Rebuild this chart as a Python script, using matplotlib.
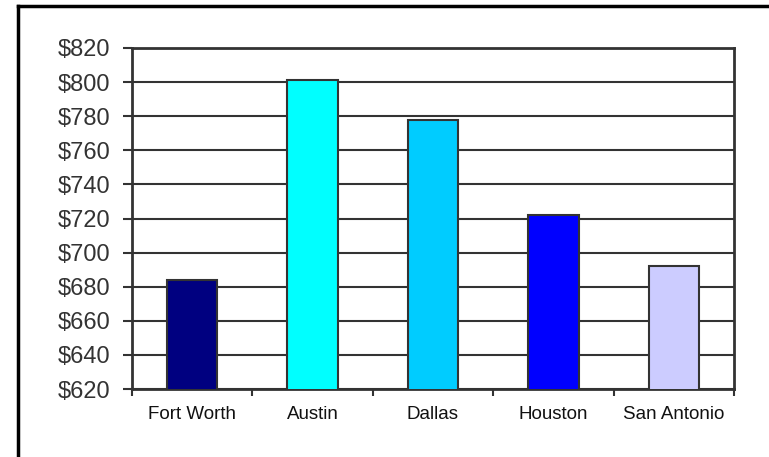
import matplotlib.pyplot as plt
from matplotlib.lines import Line2D
from matplotlib.ticker import FixedLocator, FuncFormatter

cities = ['Fort Worth', 'Austin', 'Dallas', 'Houston', 'San Antonio']
rent = [684, 801, 778, 722, 692]
colors = ['#000080', '#00FFFF', '#00CCFF', '#0000FF', '#CCCCFF']

plt.rcParams['font.family'] = ['Liberation Sans', 'DejaVu Sans']

fig = plt.figure(figsize=(7.69, 4.57), dpi=100)
ax = fig.add_axes([132/769, 1-389/457, (734-132)/769, (389-48)/457])

x = list(range(len(cities)))
ax.bar(x, rent, width=0.42, color=colors, edgecolor='#333333', linewidth=1.5, zorder=3)

ax.set_ylim(620, 820)
ax.set_xlim(-0.5, len(cities) - 0.5)
ax.set_yticks(range(620, 821, 20))
ax.yaxis.set_major_formatter(FuncFormatter(lambda v, p: '$%d' % v))
ax.grid(axis='y', color='#333333', linewidth=1.5, zorder=0)

# category boundaries get the tick marks, names sit at the centres
ax.xaxis.set_major_locator(FixedLocator([i - 0.5 for i in range(len(cities) + 1)]))
ax.xaxis.set_minor_locator(FixedLocator(x))
ax.set_xticklabels([], minor=False)
ax.set_xticklabels(cities, minor=True, fontsize=13.5, color='#111111')
ax.tick_params(axis='x', which='major', direction='out', length=5, width=1.5, color='#333333')
ax.tick_params(axis='x', which='minor', length=0, pad=12)
ax.tick_params(axis='y', direction='out', length=6.5, width=1.5, color='#333333',
               labelsize=17, labelcolor='#333333', pad=9)

for s in ax.spines.values():
    s.set_color('#333333')
    s.set_linewidth(2)

# outer frame, open on the right and bottom
fig.add_artist(Line2D([18/769, 18/769], [0, 1-6/457], color='black', linewidth=2.5,
                      transform=fig.transFigure))
fig.add_artist(Line2D([18/769, 1], [1-6/457, 1-6/457], color='black', linewidth=2.5,
                      transform=fig.transFigure))

fig.savefig('out.png', dpi=100)
